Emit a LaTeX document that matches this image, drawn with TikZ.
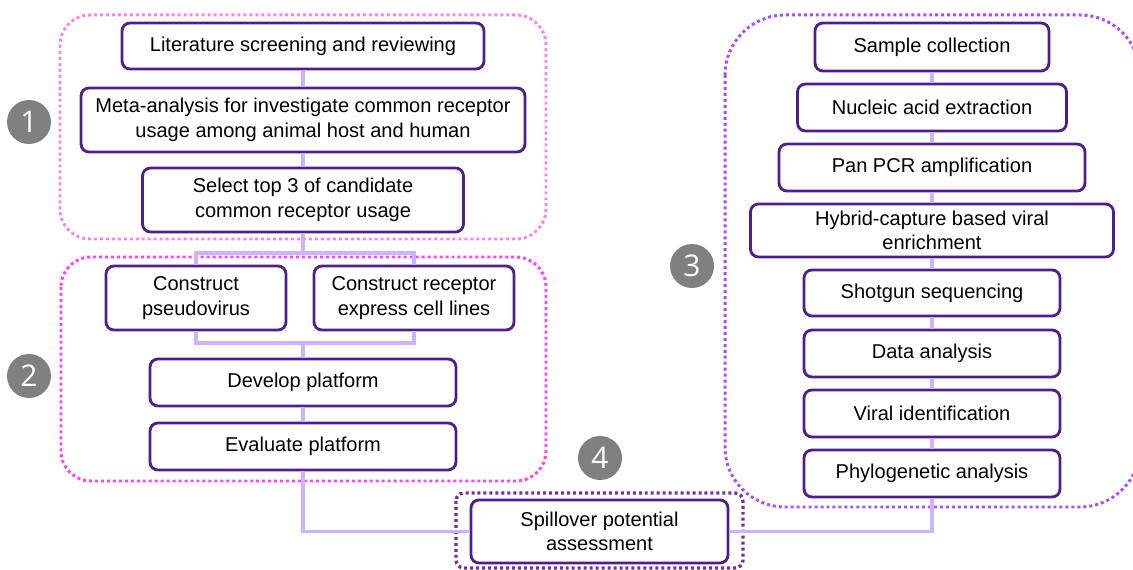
\documentclass[tikz,border=0pt]{standalone}
\usepackage{fontspec}
\setmainfont{Liberation Sans}
\newfontfamily\numfont{Open Sans}
\definecolor{boxc}{RGB}{80,30,140}
\definecolor{linkc}{RGB}{205,178,255}
\definecolor{pinkc}{RGB}{255,130,230}
\definecolor{magc}{RGB}{255,64,255}
\definecolor{purc}{RGB}{170,75,250}
\definecolor{darkc}{RGB}{112,48,160}
\definecolor{numc}{RGB}{128,128,128}
\begin{document}
\begin{tikzpicture}[x=0.02cm,y=-0.02cm,
 box/.style={draw=boxc,fill=white,line width=1.6pt,rounded corners=4.5pt,align=center,inner sep=0pt,font=\fontsize{11.4}{14}\selectfont},
 link/.style={draw=linkc,line width=1.8pt},
 frame/.style={line width=1.7pt,dash pattern=on 1.7pt off 1.7pt},
 num/.style={circle,fill=numc,text=white,minimum size=0.88cm,inner sep=0pt,font=\numfont\fontsize{17}{17}\selectfont}]
 \useasboundingbox (0,0) rectangle (1133,570);
 % frames
 \draw[frame,pinkc,rounded corners=0.6cm](60,15) rectangle (546,239);
 \draw[frame,magc,rounded corners=0.6cm](61,257) rectangle (546,481);
 \draw[frame,purc,rounded corners=1.2cm](725,15) rectangle (1140,507);
 \draw[frame,darkc,line width=1.9pt,rounded corners=0.16cm](456,493) rectangle (743,568);
 % left column
 \node[box,minimum width=7.24cm,minimum height=0.92cm] (lit) at (303,46) {Literature screening and reviewing};
 \node[box,minimum width=8.88cm,minimum height=1.28cm] (meta) at (303,120) {Meta-analysis for investigate common receptor\\usage among animal host and human};
 \node[box,minimum width=6.42cm,minimum height=1.28cm] (sel) at (303,200) {Select top 3 of candidate\\common receptor usage};
 \node[box,minimum width=3.6cm,minimum height=1.28cm] (pseudo) at (196,298) {Construct\\pseudovirus};
 \node[box,minimum width=4cm,minimum height=1.28cm] (recep) at (414,298) {Construct receptor\\express cell lines};
 \node[box,minimum width=6.12cm,minimum height=0.94cm] (dev) at (303,382.5) {Develop platform};
 \node[box,minimum width=6.12cm,minimum height=0.94cm] (eval) at (303,446.5) {Evaluate platform};
 \node[box,minimum width=5.14cm,minimum height=1.26cm] (spill) at (599.5,531.5) {Spillover potential\\assessment};
 % right column
 \node[box,minimum width=4.68cm,minimum height=0.96cm] (sample) at (932,47) {Sample collection};
 \node[box,minimum width=5.38cm,minimum height=0.94cm] (nucl) at (932,107.5) {Nucleic acid extraction};
 \node[box,minimum width=6.12cm,minimum height=0.94cm] (pcr) at (932,167.5) {Pan PCR amplification};
 \node[box,minimum width=7.26cm,minimum height=1.06cm] (hybrid) at (932,230.5) {Hybrid-capture based viral\\enrichment};
 \node[box,minimum width=5.12cm,minimum height=0.92cm] (shot) at (932,293) {Shotgun sequencing};
 \node[box,minimum width=5.12cm,minimum height=0.94cm] (data) at (932,353.5) {Data analysis};
 \node[box,minimum width=5.12cm,minimum height=0.94cm] (viral) at (932,413.5) {Viral identification};
 \node[box,minimum width=5.12cm,minimum height=0.94cm] (phylo) at (932,473.5) {Phylogenetic analysis};
 % numbers
 \node[num] (n1) at (29,122) {1};
 \node[num] (n2) at (29,376) {2};
 \node[num] (n3) at (692,266) {3};
 \node[num] (n4) at (600,458) {4};
 % links
 \coordinate (tsplit) at (303,253);
 \coordinate (bsplit) at (303,343);
 \draw[link](lit.south)--(meta.north) (meta.south)--(sel.north) (sel.south)--(tsplit);
 \draw[link](pseudo.north)|-(tsplit)-|(recep.north);
 \draw[link](pseudo.south)|-(bsplit)-|(recep.south);
 \draw[link](bsplit)--(dev.north) (dev.south)--(eval.north);
 \draw[link](eval.south)|-(spill.west);
 \draw[link](sample.south)--(nucl.north) (nucl.south)--(pcr.north) (pcr.south)--(hybrid.north)
  (hybrid.south)--(shot.north) (shot.south)--(data.north) (data.south)--(viral.north) (viral.south)--(phylo.north);
 \draw[link](phylo.south)|-(spill.east);
\end{tikzpicture}
\end{document}
